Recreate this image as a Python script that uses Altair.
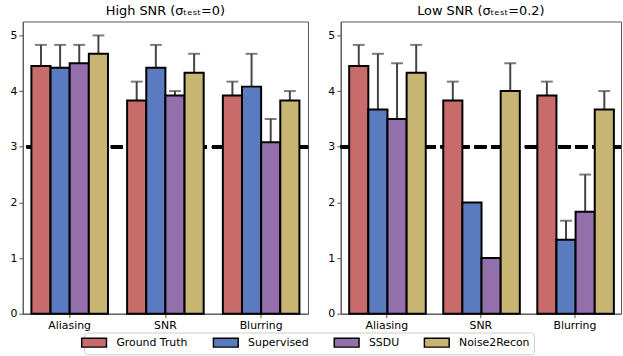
import altair as alt
import pandas as pd

categories = ["Aliasing", "SNR", "Blurring"]
methods = ["Ground Truth", "Supervised", "SSDU", "Noise2Recon"]
colors = ["#C86B6B", "#5A7BBF", "#9370AC", "#C8B473"]

# High SNR panel: means and upper error extents
high_mean = {
    "Ground Truth": [4.45, 3.83, 3.92],
    "Supervised": [4.42, 4.42, 4.08],
    "SSDU": [4.50, 3.92, 3.08],
    "Noise2Recon": [4.67, 4.33, 3.83],
}
high_err = {
    "Ground Truth": [0.38, 0.34, 0.25],
    "Supervised": [0.41, 0.41, 0.59],
    "SSDU": [0.33, 0.08, 0.42],
    "Noise2Recon": [0.33, 0.34, 0.17],
}
# Low SNR panel
low_mean = {
    "Ground Truth": [4.45, 3.83, 3.92],
    "Supervised": [3.67, 2.00, 1.33],
    "SSDU": [3.50, 1.00, 1.83],
    "Noise2Recon": [4.33, 4.00, 3.67],
}
low_err = {
    "Ground Truth": [0.38, 0.34, 0.25],
    "Supervised": [1.00, 0.00, 0.34],
    "SSDU": [1.00, 0.00, 0.67],
    "Noise2Recon": [0.50, 0.50, 0.33],
}

titles = ["High SNR (\u03c3\u209c\u2091\u209b\u209c=0)", "Low SNR (\u03c3\u209c\u2091\u209b\u209c=0.2)"]
y_ticks = [0, 1, 2, 3, 4, 5]
threshold = 3


def make_df(mean, err):
    rows = []
    for m in methods:
        for i, c in enumerate(categories):
            rows.append({"category": c, "method": m, "mean": mean[m][i],
                         "err": err[m][i], "upper": mean[m][i] + err[m][i]})
    return pd.DataFrame(rows)


FONT = "DejaVu Sans"
# wide flat legend patch: 25 x 9 px when symbolSize=100 (scale 5)
legend_path = "M-2.5,-0.9H2.5V0.9H-2.5Z"


def panel(df, title, width, show_legend):
    base = alt.Chart(df).encode(
        x=alt.X("category:N", sort=categories, title=None,
                scale=alt.Scale(paddingInner=0.2, paddingOuter=0.09),
                axis=alt.Axis(labelAngle=0, labelFontSize=11, tickSize=4,
                              labelPadding=2, labelFont=FONT, labelColor="black",
                              domainColor="#555555", tickColor="#555555")),
        xOffset=alt.XOffset("method:N", sort=methods,
                            scale=alt.Scale(paddingInner=0, paddingOuter=0)),
    )
    yscale = alt.Scale(domain=[0, 5.25], nice=False)
    yaxis = alt.Axis(values=y_ticks, format="d", labelFontSize=11, tickSize=4,
                     labelPadding=2, labelFont=FONT, labelColor="black",
                     domainColor="#555555", tickColor="#555555", grid=False)
    thresh = alt.Chart(df).mark_rule(color="black", strokeWidth=3, strokeDash=[12, 5]).encode(
        y=alt.datum(threshold, scale=yscale, axis=yaxis, type="quantitative")
    )
    bars = base.mark_bar(stroke="black", strokeWidth=2).encode(
        y=alt.Y("mean:Q", scale=yscale, axis=yaxis, title=None),
        color=alt.Color("method:N", sort=methods,
                        scale=alt.Scale(domain=methods, range=colors),
                        legend=alt.Legend(title=None, orient="none", direction="horizontal",
                                          legendX=62, legendY=314) if show_legend else None),
    )
    errs = base.transform_filter(alt.datum.err > 0)
    rule = errs.mark_rule(color="#444444", strokeWidth=2).encode(
        y=alt.Y("mean:Q", scale=yscale), y2="upper:Q")
    cap = errs.mark_tick(color="#444444", thickness=2, size=12).encode(
        y=alt.Y("upper:Q", scale=yscale))
    return alt.layer(thresh, rule, cap, bars).properties(
        width=width, height=295,
        title=alt.TitleParams(title, fontSize=13, fontWeight="normal", font=FONT,
                              offset=4, color="black"))


left = panel(make_df(high_mean, high_err), titles[0], 288, True)
right = panel(make_df(low_mean, low_err), titles[1], 283, False)

chart = alt.hconcat(left, right, spacing=17).properties(
    padding={"left": 9, "top": 2, "right": 0, "bottom": 0}
).configure_view(stroke="#555555", strokeWidth=1).configure_legend(
    symbolType=legend_path, symbolSize=100, symbolStrokeColor="black",
    symbolStrokeWidth=1.5, symbolOpacity=1, labelFontSize=11, labelFont=FONT,
    labelColor="black", columnPadding=22, symbolOffset=0, labelOffset=16.5,
    strokeColor="#cccccc", padding=4, cornerRadius=3, fillColor="white"
)

chart.save("out.html", embed_options={"renderer": "svg", "actions": False})
